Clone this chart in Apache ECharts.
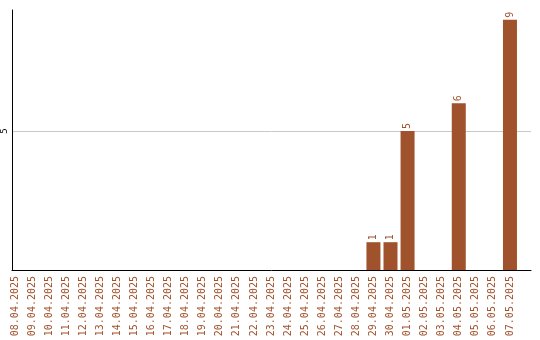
<!DOCTYPE html>
<html>
<head>
<meta charset="utf-8">
<script src="https://cdn.jsdelivr.net/npm/echarts@6/dist/echarts.min.js"></script>
<style>
  html, body { margin: 0; padding: 0; background: #fff; }
  #chart { width: 540px; height: 340px; }
</style>
</head>
<body>
<div id="chart"></div>
<script>
// Daily counts, 08.04.2025 – 07.05.2025
const days = [
  '08.04.2025', '09.04.2025', '10.04.2025', '11.04.2025', '12.04.2025',
  '13.04.2025', '14.04.2025', '15.04.2025', '16.04.2025', '17.04.2025',
  '18.04.2025', '19.04.2025', '20.04.2025', '21.04.2025', '22.04.2025',
  '23.04.2025', '24.04.2025', '25.04.2025', '26.04.2025', '27.04.2025',
  '28.04.2025', '29.04.2025', '30.04.2025', '01.05.2025', '02.05.2025',
  '03.05.2025', '04.05.2025', '05.05.2025', '06.05.2025', '07.05.2025'
];
const counts = [
  0, 0, 0, 0, 0,
  0, 0, 0, 0, 0,
  0, 0, 0, 0, 0,
  0, 0, 0, 0, 0,
  0, 1, 1, 5, 0,
  0, 6, 0, 0, 9
];
const yMax = 9.35;
const yStep = 5;

const BROWN = '#a0522d';
const FONT = '"DejaVu Sans Mono", monospace';

const chart = echarts.init(document.getElementById('chart'), null, { renderer: 'canvas' });
chart.setOption({
  animation: false,
  backgroundColor: '#ffffff',
  grid: [
    // plotting band for the bars
    { left: 6.5, right: 21.5, top: 10, bottom: 70 },
    // frame: axis lines and the reference line
    { left: 10.5, right: 9, top: 10, bottom: 70 }
  ],
  xAxis: [
    {
      gridIndex: 0,
      type: 'category',
      data: days,
      axisLine: { show: false },
      axisTick: { show: false },
      axisLabel: {
        rotate: 90,
        interval: 0,
        margin: 6,
        color: BROWN,
        fontFamily: FONT,
        fontSize: 10
      }
    },
    {
      gridIndex: 1,
      type: 'value',
      min: 0,
      max: 1,
      axisLine: { show: true, onZero: false, lineStyle: { color: '#000', width: 1 } },
      axisTick: { show: false },
      axisLabel: { show: false },
      splitLine: { show: false }
    }
  ],
  yAxis: [
    {
      gridIndex: 0,
      type: 'value',
      min: 0,
      max: yMax,
      show: false
    },
    {
      gridIndex: 1,
      type: 'value',
      min: 0,
      max: yMax,
      interval: yStep,
      z: 0,
      axisLine: { show: true, lineStyle: { color: '#000', width: 1 } },
      axisTick: { show: false },
      axisLabel: {
        rotate: 90,
        margin: 3,
        color: '#000',
        fontFamily: FONT,
        fontSize: 9,
        showMinLabel: false,
        showMaxLabel: false
      },
      splitLine: {
        show: true,
        showMinLine: false,
        showMaxLine: false,
        lineStyle: { color: '#c8c8c8', width: 1 }
      }
    }
  ],
  series: [
    {
      type: 'bar',
      xAxisIndex: 0,
      yAxisIndex: 0,
      z: 5,
      data: counts,
      barWidth: 14,
      itemStyle: { color: BROWN },
      label: {
        show: true,
        position: 'top',
        rotate: 90,
        align: 'left',
        verticalAlign: 'middle',
        distance: 2,
        color: BROWN,
        fontFamily: FONT,
        fontSize: 10,
        formatter: p => (p.value ? String(p.value) : '')
      }
    }
  ]
});
</script>
</body>
</html>
